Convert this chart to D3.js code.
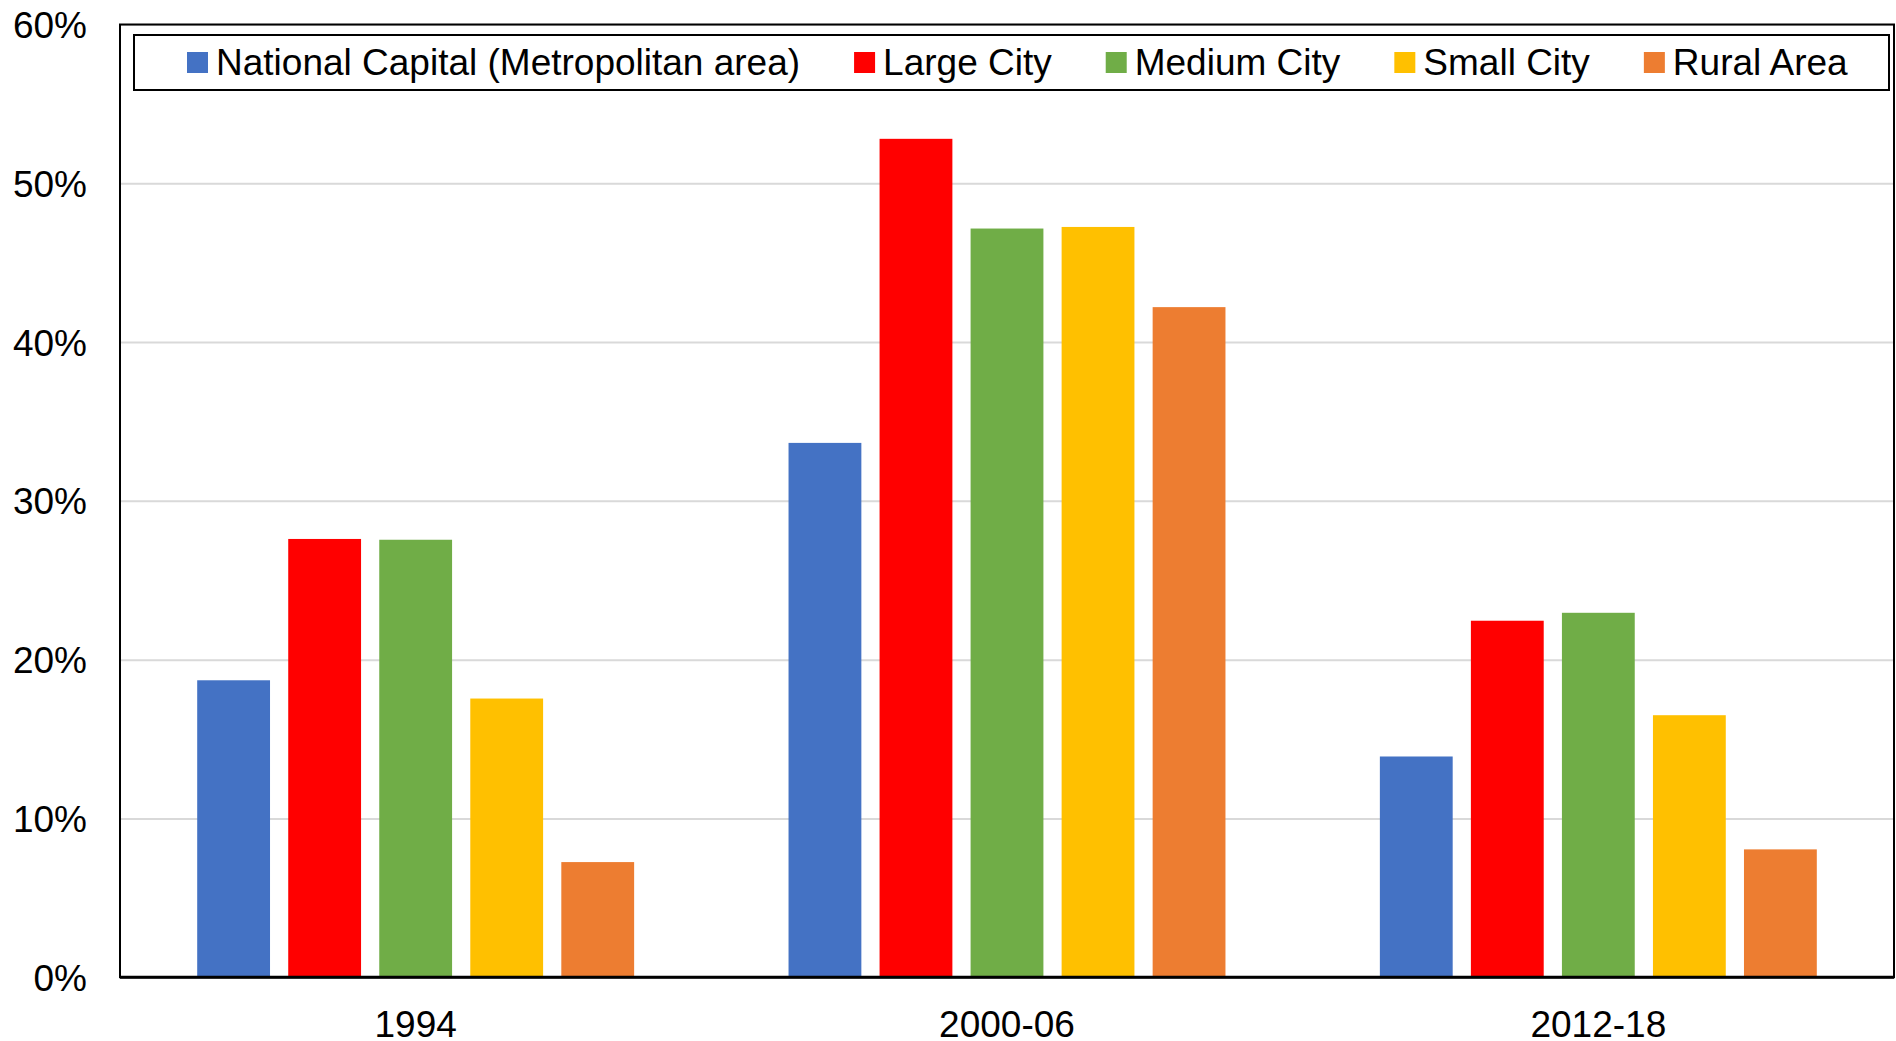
<!DOCTYPE html>
<html>
<head>
<meta charset="utf-8">
<script src="https://cdn.jsdelivr.net/npm/d3@7"></script>
<style>
  html, body { margin: 0; padding: 0; background: #fff; }
  svg { display: block; font-family: "Liberation Sans", Arial, sans-serif; }
</style>
</head>
<body>
<svg id="chart" width="1896" height="1041"></svg>
<script>
// ---- data ----
const categories = ["1994", "2000-06", "2012-18"];
const seriesNames = ["National Capital (Metropolitan area)", "Large City", "Medium City", "Small City", "Rural Area"];
const seriesColors = ["#4472C4", "#FF0000", "#70AD47", "#FFC000", "#ED7D31"];
const nationalCapital = [18.7, 33.65, 13.9];
const largeCity      = [27.6, 52.8, 22.45];
const mediumCity     = [27.55, 47.15, 22.95];
const smallCity      = [17.55, 47.25, 16.5];
const ruralArea      = [7.25, 42.2, 8.05];
const yTicks = [0, 10, 20, 30, 40, 50, 60];

const seriesValues = [nationalCapital, largeCity, mediumCity, smallCity, ruralArea];

(function () {
// ---- layout ----
const svg = d3.select("#chart");
const pLeft = 120, pRight = 1894, pTop = 24.5, pBottom = 977.2;
const fontSize = 37;

const x0 = d3.scaleBand().domain(categories).range([pLeft, pRight]).paddingInner(0).paddingOuter(0);
const groupPad = 77.2;
const x1 = d3.scaleBand().domain(seriesNames)
  .range([groupPad, x0.bandwidth() - groupPad]).paddingInner(0.2).paddingOuter(0);
const y = d3.scaleLinear().domain([0, 60]).range([pBottom, pTop]);

// gridlines
const grid = svg.append("g").attr("transform", `translate(${pLeft},0)`)
  .call(d3.axisLeft(y).tickValues(yTicks).tickSize(-(pRight - pLeft)).tickFormat(""));
grid.select(".domain").remove();
grid.selectAll("line").attr("stroke", "#d9d9d9").attr("stroke-width", 2);

// y labels
const yAxis = svg.append("g").attr("transform", `translate(87,0)`)
  .call(d3.axisLeft(y).tickValues(yTicks).tickSize(0).tickPadding(0).tickFormat(d => d + "%"));
yAxis.select(".domain").remove();
yAxis.selectAll("text").attr("font-size", fontSize).attr("fill", "#000")
  .attr("font-family", "'Liberation Sans', Arial, sans-serif").attr("dy", "0.35em");

// bars
const rows = [];
categories.forEach((c, ci) => {
  seriesNames.forEach((s, si) => rows.push({ c, s, si, v: seriesValues[si][ci] }));
});
svg.append("g").selectAll("rect").data(rows).join("rect")
  .attr("x", d => x0(d.c) + x1(d.s))
  .attr("y", d => y(d.v))
  .attr("width", x1.bandwidth())
  .attr("height", d => y(0) - y(d.v))
  .attr("fill", d => seriesColors[d.si]);

// x labels
const xAxis = svg.append("g").attr("transform", `translate(0,${pBottom})`)
  .call(d3.axisBottom(x0).tickSize(0).tickPadding(0));
xAxis.select(".domain").remove();
xAxis.selectAll("text").attr("font-size", fontSize).attr("fill", "#000")
  .attr("font-family", "'Liberation Sans', Arial, sans-serif")
  .attr("dy", null).attr("y", 59.5);

// plot frame
svg.append("rect").attr("x", pLeft).attr("y", pTop).attr("width", pRight - pLeft).attr("height", pBottom - pTop)
  .attr("fill", "none").attr("stroke", "#000").attr("stroke-width", 2);
svg.append("line").attr("x1", pLeft).attr("x2", pRight).attr("y1", pBottom).attr("y2", pBottom)
  .attr("stroke", "#000").attr("stroke-width", 3);

// legend
const legBox = { x: 134, y: 35, w: 1755, h: 55 };
svg.append("rect").attr("x", legBox.x).attr("y", legBox.y).attr("width", legBox.w).attr("height", legBox.h)
  .attr("fill", "#fff").attr("stroke", "#000").attr("stroke-width", 2);
const legCy = legBox.y + legBox.h / 2;
let lx = 187;
seriesNames.forEach((s, i) => {
  svg.append("rect").attr("x", lx).attr("y", legCy - 10.5).attr("width", 21).attr("height", 21)
    .attr("fill", seriesColors[i]);
  const t = svg.append("text").attr("x", lx + 29).attr("y", legCy).attr("dy", "0.35em")
    .attr("font-size", fontSize).attr("fill", "#000").text(s);
  lx += 29 + t.node().getComputedTextLength() + 54;
});
})();
</script>
</body>
</html>
